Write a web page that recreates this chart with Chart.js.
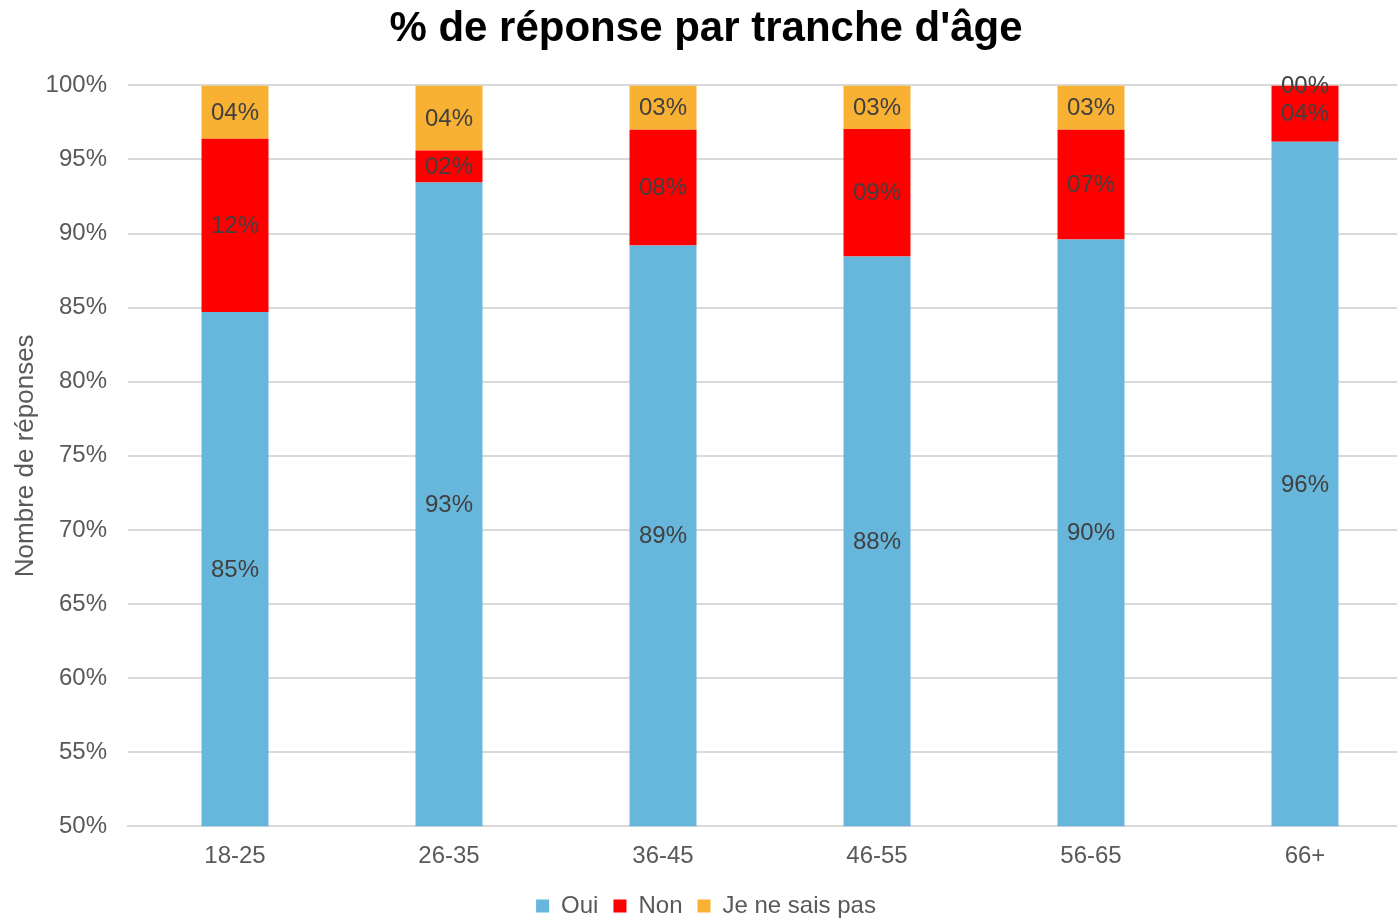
<!DOCTYPE html>
<html lang="fr">
<head>
    <meta charset="UTF-8">
    <title>% de réponse par tranche d'âge</title>
    <script src="https://cdn.jsdelivr.net/npm/chart.js"></script>
    <style>
        body { margin: 0; overflow: hidden; background: #fff; }
        #wrap { width: 1412px; height: 918px; }
    </style>
</head>
<body>
    <div id="wrap"><canvas id="graphique"></canvas></div>

    <script>
        // Données (en %)
        const tranches = ['18-25', '26-35', '36-45', '46-55', '56-65', '66+'];
        const oui = [84.7, 93.45, 89.2, 88.45, 89.6, 96.2];
        const non = [11.7, 2.15, 7.8, 8.6, 7.4, 3.8];
        const nsp = [3.6, 4.4, 3.0, 2.95, 3.0, 0];
        const ticksY = [50, 55, 60, 65, 70, 75, 80, 85, 90, 95, 100];

        Chart.defaults.font.family = 'Arial, "Liberation Sans", sans-serif';

        // étiquettes au centre de chaque segment (partie visible)
        const etiquettes = {
            id: 'etiquettes',
            afterDatasetsDraw(chart) {
                const ctx = chart.ctx;
                const bas = chart.chartArea.bottom;
                ctx.save();
                ctx.font = '24px Arial, "Liberation Sans", sans-serif';
                ctx.fillStyle = '#404040';
                ctx.textAlign = 'center';
                ctx.textBaseline = 'middle';
                chart.data.datasets.forEach((ds, i) => {
                    const meta = chart.getDatasetMeta(i);
                    meta.data.forEach((bar, j) => {
                        const v = Math.round(ds.data[j]);
                        const txt = String(v).padStart(2, '0') + '%';
                        const base = Math.min(bar.base, bas);
                        ctx.fillText(txt, bar.x, (bar.y + base) / 2 + 1);
                    });
                });
                ctx.restore();
            }
        };

        new Chart(document.getElementById('graphique'), {
            type: 'bar',
            data: {
                labels: tranches,
                datasets: [
                    { label: 'Oui', data: oui, backgroundColor: '#67B7DC' },
                    { label: 'Non', data: non, backgroundColor: '#FF0000' },
                    { label: 'Je ne sais pas', data: nsp, backgroundColor: '#F8B133' }
                ]
            },
            options: {
                responsive: true,
                maintainAspectRatio: false,
                animation: false,
                datasets: { bar: { categoryPercentage: 1, barPercentage: 0.313 } },
                layout: { padding: { left: 0, right: 0, top: 2, bottom: -10 } },
                plugins: {
                    title: {
                        display: true,
                        text: "% de réponse par tranche d'âge",
                        color: '#000',
                        font: { size: 42, weight: 'bold' },
                        padding: { top: 2, bottom: 31 }
                    },
                    legend: {
                        position: 'bottom',
                        labels: {
                            color: '#595959',
                            font: { size: 24 },
                            boxWidth: 13,
                            boxHeight: 13,
                            padding: 15
                        }
                    },
                    tooltip: { enabled: false }
                },
                scales: {
                    x: {
                        stacked: true,
                        afterFit(axis) {
                            axis.height -= 8;
                        },
                        grid: { display: false, drawTicks: false },
                        border: { color: '#d9d9d9', width: 2 },
                        ticks: { color: '#595959', font: { size: 24 }, padding: 16 }
                    },
                    y: {
                        stacked: true,
                        min: 50,
                        max: 100,
                        afterBuildTicks(axis) {
                            axis.ticks = ticksY.map(v => ({ value: v }));
                        },
                        afterFit(axis) {
                            axis.width = 128;
                        },
                        grid: { color: '#d9d9d9', lineWidth: 2, drawTicks: false },
                        border: { display: false },
                        ticks: {
                            color: '#595959',
                            font: { size: 24 },
                            padding: 21,
                            callback: v => v + '%'
                        },
                        title: {
                            display: true,
                            text: 'Nombre de réponses',
                            color: '#595959',
                            font: { size: 26 },
                            padding: { top: 10, bottom: 6 }
                        }
                    }
                }
            },
            plugins: [etiquettes]
        });
    </script>
</body>
</html>
